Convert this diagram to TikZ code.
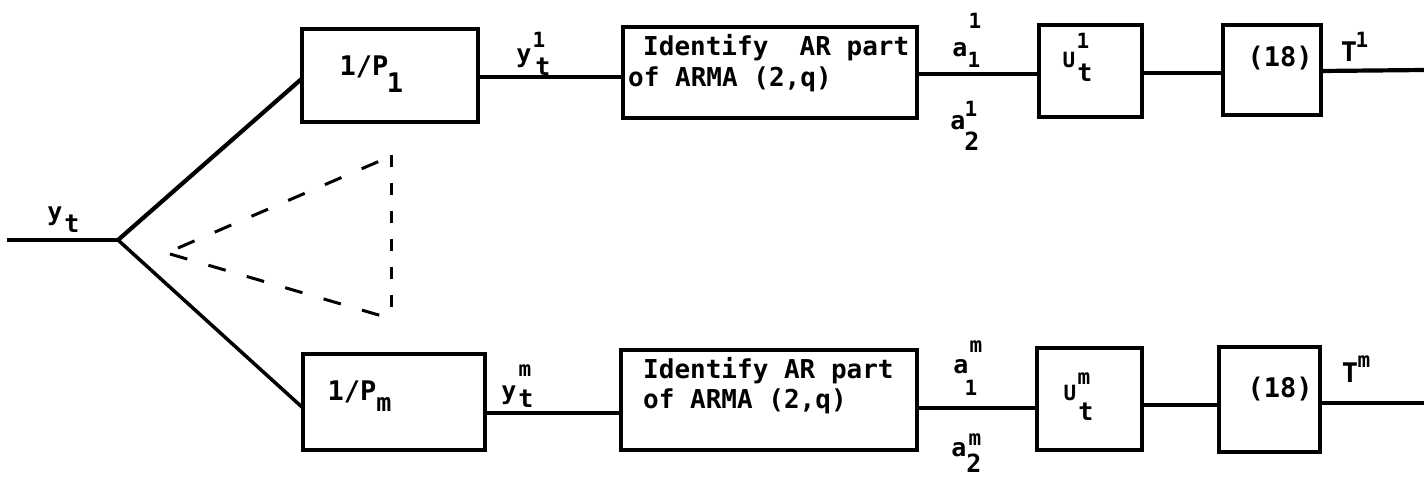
\documentclass[tikz,border=0pt]{standalone}
\usepackage{fontspec}
\newfontfamily\tw{DejaVu Sans Mono}[BoldFont={DejaVu Sans Mono Bold}]
\begin{document}
\begin{tikzpicture}[x=1pt,y=-1pt,
  blk/.style={draw, line width=3.8pt, inner sep=0pt, outer sep=0pt},
  wire/.style={line width=4.2pt},
  dsh/.style={line width=3pt, dash pattern=on 18pt off 22pt},
  dshv/.style={line width=3pt, dash pattern=on 12pt off 16pt},
  txt/.style={inner sep=0pt, anchor=base west, font=\tw\bfseries\fontsize{26}{26}\selectfont},
  big/.style={inner sep=0pt, font=\tw\bfseries\fontsize{27}{27}\selectfont},
  lab/.style={inner sep=0pt, font=\tw\bfseries\fontsize{25}{25}\selectfont},
  sup/.style={inner sep=0pt, font=\tw\bfseries\fontsize{21}{21}\selectfont}]
\useasboundingbox (0,0) rectangle (1424,479);
\fill[white] (0,0) rectangle (1424,479);

% boxes
\node[blk, minimum width=176pt, minimum height=93pt] (P1) at (390,75.5) {};
\node[blk, minimum width=182pt, minimum height=96pt] (Pm) at (394,402) {};
\node[blk, minimum width=294pt, minimum height=91pt] (I1) at (770,72.5) {};
\node[blk, minimum width=296pt, minimum height=100pt] (Im) at (769,400) {};
\node[blk, minimum width=103pt, minimum height=92pt] (U1) at (1090.5,71) {};
\node[blk, minimum width=105pt, minimum height=102pt] (Um) at (1089.5,399) {};
\node[blk, minimum width=98pt, minimum height=90pt] (E1) at (1272,70) {};
\node[blk, minimum width=101pt, minimum height=105pt] (Em) at (1269.5,399.5) {};

% coordinates
\coordinate (in) at (7,240);
\coordinate (br) at (118,240);
\coordinate (o1) at (1424,70);
\coordinate (om) at (1424,403);
\coordinate (da) at (178,248);
\coordinate (db) at (382,160);
\coordinate (dc) at (170,254);
\coordinate (dd) at (382,316);
\coordinate (de) at (391,155);
\coordinate (df) at (391,318);

% connectors (yshift is in canvas direction: negative = down)
\draw[wire] (in) -- (br);
\draw[wire] (br) -- ([yshift=-3pt]P1.west);
\draw[line width=3.5pt] (br) -- ([yshift=-6pt]Pm.west);
\draw[wire] ([yshift=-1.5pt]P1.east) -- ([yshift=-1.5pt]P1.east -| I1.west);
\draw[wire] ([yshift=-11pt]Pm.east) -- ([yshift=-11pt]Pm.east -| Im.west);
\draw[wire] ([yshift=-1.5pt]I1.east) -- ([yshift=-1.5pt]I1.east -| U1.west);
\draw[wire] ([yshift=-8pt]Im.east) -- ([yshift=-8pt]Im.east -| Um.west);
\draw[wire] ([yshift=-2pt]U1.east) -- ([yshift=-2pt]U1.east -| E1.west);
\draw[wire] ([yshift=-6pt]Um.east) -- ([yshift=-6pt]Um.east -| Em.west);
\draw[wire] ([yshift=-1pt]E1.east) -- (o1);
\draw[wire] (Em.east |- om) -- (om);

% dashed triangle
\draw[dsh] (da) -- (db);
\draw[dsh] (dc) -- (dd);
\draw[dshv] (de) -- (df);

% box texts
\node[txt] (t11) at (643,55) {Identify\ \ AR part};
\node[txt] (t12) at (628,86) {of ARMA (2,q)};
\node[txt] (tm1) at (643,378) {Identify AR part};
\node[txt] (tm2) at (643,408) {of ARMA (2,q)};
\node[big] (p1a) at (364,67) {1/P};
\node[big] (p1b) at (395,83) {1};
\node[big] (pma) at (352,392) {1/P};
\node[lab] (pmb) at (384,404) {m};
\node[big] (e1t) at (1280,58) {(18)};
\node[big] (emt) at (1280,389) {(18)};

% input label
\node[lab] (yi) at (55,216) {y};
\node[lab] (ti) at (72,224) {t};

% y_t^1, y_t^m
\node[lab] (y1) at (524,58) {y};
\node[sup] (y1s) at (539,40) {1};
\node[lab] (y1t) at (543,67) {t};
\node[lab] (ym) at (509,395) {y};
\node[sup] (yms) at (525,371) {m};
\node[lab] (ymt) at (526,399) {t};

% a labels top
\node[sup] (a11s) at (975,21) {1};
\node[lab] (a11) at (960,50) {a};
\node[sup] (a11i) at (974,60) {1};
\node[lab] (a21) at (958,123) {a};
\node[sup] (a21s) at (971,109) {1};
\node[lab] (a21i) at (972,141) {2};
% a labels bottom
\node[sup] (a1ms) at (976,347) {m};
\node[lab] (a1m) at (961,367) {a};
\node[sup] (a1mi) at (971,388) {1};
\node[lab] (a2m) at (959,450) {a};
\node[sup] (a2ms) at (975,440) {m};
\node[lab] (a2mi) at (974,463) {2};

% U labels
\node[sup] (u1) at (1069,60) {U};
\node[sup] (u1s) at (1083,41) {1};
\node[lab] (u1t) at (1085,73) {t};
\node[sup] (um) at (1070,393) {U};
\node[sup] (ums) at (1084,379) {m};
\node[lab] (umt) at (1086,412) {t};

% T labels
\node[big] (T1) at (1349,52) {T};
\node[sup] (T1s) at (1362,40) {1};
\node[big] (Tm) at (1350,373) {T};
\node[sup] (Tms) at (1364,362) {m};
\end{tikzpicture}
\end{document}
